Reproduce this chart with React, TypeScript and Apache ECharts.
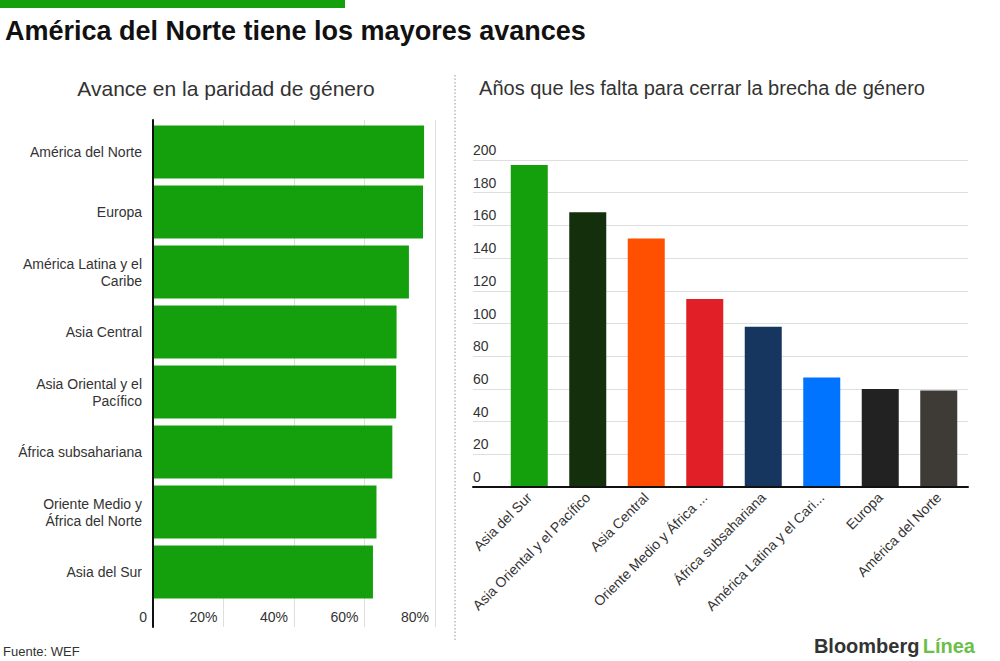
import React, { useEffect, useRef } from "react";
import * as echarts from "echarts";

const FONT = '"Liberation Sans", Arial, sans-serif';

const leftCategories = [
  "América del Norte",
  "Europa",
  "América Latina y el\nCaribe",
  "Asia Central",
  "Asia Oriental y el\nPacífico",
  "África subsahariana",
  "Oriente Medio y\nÁfrica del Norte",
  "Asia del Sur",
];
const leftValues = [76.9, 76.6, 72.6, 69.1, 69.0, 67.9, 63.4, 62.4];
const leftTicks = [0, 20, 40, 60, 80];

const rightCategories = [
  "Asia del Sur",
  "Asia Oriental y el Pacífico",
  "Asia Central",
  "Oriente Medio y África del Norte",
  "África subsahariana",
  "América Latina y el Caribe",
  "Europa",
  "América del Norte",
];
const rightTickLabels = [
  "Asia del Sur",
  "Asia Oriental y el Pacífico",
  "Asia Central",
  "Oriente Medio y África ...",
  "África subsahariana",
  "América Latina y el Cari...",
  "Europa",
  "América del Norte",
];
const rightValues = [197, 168, 152, 115, 98, 67, 60, 59];
const rightColors = [
  "#149f0c",
  "#132f0b",
  "#fe5000",
  "#e11f27",
  "#17365f",
  "#0073ff",
  "#222222",
  "#3e3a36",
];

export default function App() {
  const ref = useRef<HTMLDivElement>(null);

  useEffect(() => {
    if (!ref.current) return;
    const chart = echarts.init(ref.current, null, { renderer: "svg" });
    const grey = "#dedede";
    const txt = "#333333";
    const option: any = {
      animation: false,
      backgroundColor: "#ffffff",
      textStyle: { fontFamily: FONT },
      grid: [
        { left: 153, top: 120, width: 282, height: 507 },
        { left: 153, top: 122, width: 282, height: 480 },
        { left: 473, top: 160, width: 495, height: 327 },
        { left: 500, top: 160, width: 468, height: 327 },
      ],
      xAxis: [
        {
          gridIndex: 0,
          type: "value",
          min: leftTicks[0],
          max: leftTicks[leftTicks.length - 1],
          interval: 20,
          position: "bottom",
          axisLine: { show: false },
          axisTick: { show: false },
          splitLine: { show: true, lineStyle: { color: grey, width: 1 } },
          axisLabel: {
            inside: true,
            margin: 3,
            align: "right",
            padding: [0, 6, 0, 0],
            color: txt,
            fontSize: 14,
            fontFamily: FONT,
            formatter: (v: number) => (v === 0 ? "0" : v + "%"),
          },
        },
        { gridIndex: 1, type: "value", min: 0, max: 80, show: false },
        {
          gridIndex: 2,
          type: "value",
          min: 0,
          max: 1,
          z: 5,
          axisLine: { show: true, lineStyle: { color: "#111111", width: 2 } },
          axisTick: { show: false },
          axisLabel: { show: false },
          splitLine: { show: false },
        },
        {
          gridIndex: 3,
          type: "category",
          data: rightCategories,
          axisLine: { show: false },
          axisTick: { show: false },
          axisLabel: {
            rotate: 45,
            margin: 8,
            interval: 0,
            color: txt,
            fontSize: 14,
            fontFamily: FONT,
            formatter: (_v: string, i: number) => rightTickLabels[i],
          },
        },
      ],
      yAxis: [
        {
          gridIndex: 0,
          type: "value",
          min: 0,
          max: 1,
          axisLine: { show: true, lineStyle: { color: "#111111", width: 2 } },
          axisTick: { show: false },
          axisLabel: { show: false },
          splitLine: { show: false },
          z: 5,
        },
        {
          gridIndex: 1,
          type: "category",
          inverse: true,
          data: leftCategories,
          axisLine: { show: false },
          axisTick: { show: false },
          axisLabel: {
            margin: 11,
            color: txt,
            fontSize: 14,
            lineHeight: 17,
            fontFamily: FONT,
          },
        },
        {
          gridIndex: 2,
          type: "value",
          min: 0,
          max: 200,
          interval: 20,
          axisLine: { show: false },
          axisTick: { show: false },
          splitLine: { show: true, lineStyle: { color: grey, width: 1 } },
          axisLabel: {
            inside: true,
            margin: 0,
            verticalAlign: "bottom",
            padding: [0, 0, 3, 0],
            color: txt,
            fontSize: 14,
            fontFamily: FONT,
          },
        },
        { gridIndex: 3, type: "value", min: 0, max: 200, show: false },
      ],
      series: [
        {
          type: "bar",
          xAxisIndex: 1,
          yAxisIndex: 1,
          data: leftValues,
          barWidth: 53,
          itemStyle: { color: "#149f0c" },
        },
        {
          type: "bar",
          xAxisIndex: 3,
          yAxisIndex: 3,
          barWidth: 37,
          data: rightValues.map((v, i) => ({
            value: v,
            itemStyle: { color: rightColors[i] },
          })),
        },
      ],
      graphic: [
        {
          type: "rect",
          shape: { x: 0, y: 0, width: 345, height: 8 },
          style: { fill: "#149f0c" },
        },
        {
          type: "text",
          x: 5,
          y: 31,
          style: {
            text: "América del Norte tiene los mayores avances",
            font: `bold 27px ${FONT}`,
            fill: "#111111",
            verticalAlign: "middle",
          },
        },
        {
          type: "text",
          x: 226,
          y: 88,
          style: {
            text: "Avance en la paridad de género",
            font: `21px ${FONT}`,
            fill: txt,
            align: "center",
            verticalAlign: "middle",
          },
        },
        {
          type: "text",
          x: 702,
          y: 88,
          style: {
            text: "Años que les falta para cerrar la brecha de género",
            font: `20px ${FONT}`,
            fill: txt,
            align: "center",
            verticalAlign: "middle",
          },
        },
        {
          type: "line",
          shape: { x1: 455, y1: 75, x2: 455, y2: 640 },
          style: { stroke: "#bbbbbb", lineWidth: 1.5, lineDash: [1.5, 2] },
        },
        {
          type: "text",
          x: 3,
          y: 651,
          style: {
            text: "Fuente: WEF",
            font: `13px ${FONT}`,
            fill: txt,
            verticalAlign: "middle",
          },
        },
        {
          type: "text",
          x: 975,
          y: 646,
          style: {
            text: "{a|Bloomberg} {b|Línea}",
            align: "right",
            verticalAlign: "middle",
            rich: {
              a: { fontFamily: FONT, fontWeight: "bold", fontSize: 20, fill: "#333333", color: "#333333" },
              b: { fontFamily: FONT, fontWeight: "bold", fontSize: 20, fill: "#6dbf4b", color: "#6dbf4b" },
            },
          },
        },
      ],
    };
    chart.setOption(option);
    return () => chart.dispose();
  }, []);

  return (
    <div
      ref={ref}
      style={{ position: "fixed", left: 0, top: 0, width: 1000, height: 661 }}
    />
  );
}
